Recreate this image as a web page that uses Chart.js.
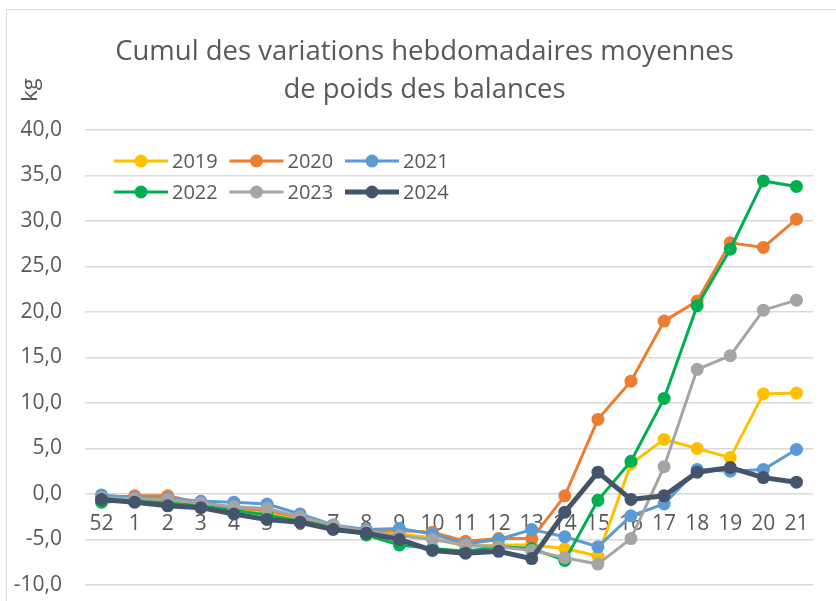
<!DOCTYPE html>
<html>
<head>
<meta charset="utf-8">
<script src="https://cdn.jsdelivr.net/npm/chart.js@4/dist/chart.umd.min.js"></script>
<style>
  html, body { margin: 0; padding: 0; background: #fff; }
  #wrap { width: 836px; height: 601px; }
</style>
</head>
<body>
<div id="wrap"><canvas id="balances" width="836" height="601"></canvas></div>
<script>
/* Semaines (52 = dernière semaine de l'année précédente) */
const weeks = ['52', '1', '2', '3', '4', '5', '6', '7', '8', '9', '10',
               '11', '12', '13', '14', '15', '16', '17', '18', '19', '20', '21'];

const years = ['2019', '2020', '2021', '2022', '2023', '2024'];
const colors = ['#FFC000', '#ED7D31', '#5B9BD5', '#00B050', '#A5A5A5', '#44546A'];
const widths = [3, 3, 3, 3, 3, 5];

/* Cumul en kg */
const v2019 = [-0.5, -0.6, -0.8, -1.2, -1.6, -2.0, -2.8, -3.5, -4.2, -4.4, -4.8,
               -5.8, -5.6, -5.6, -6.0, -6.8, 3.3, 6.0, 5.0, 4.0, 11.0, 11.1];
const v2020 = [-0.5, -0.2, -0.2, -1.0, -1.5, -1.8, -2.6, -3.5, -4.0, -4.0, -4.2,
               -5.2, -4.9, -4.9, -0.2, 8.2, 12.4, 19.0, 21.2, 27.6, 27.1, 30.2];
const v2021 = [-0.1, -0.4, -0.5, -0.8, -0.9, -1.1, -2.2, -3.4, -3.9, -3.8, -4.4,
               -5.5, -5.0, -3.9, -4.7, -5.8, -2.4, -1.1, 2.7, 2.5, 2.7, 4.9];
const v2022 = [-0.9, -0.7, -1.0, -1.3, -1.8, -2.3, -3.0, -3.6, -4.5, -5.6, -6.0,
               -6.3, -5.8, -6.0, -7.3, -0.7, 3.6, 10.5, 20.7, 26.9, 34.4, 33.8];
const v2023 = [-0.4, -0.5, -0.6, -1.0, -1.4, -1.6, -2.5, -3.4, -4.1, -4.6, -5.0,
               -5.6, -5.8, -6.2, -7.0, -7.7, -4.9, 3.0, 13.7, 15.2, 20.2, 21.3];
const v2024 = [-0.6, -0.9, -1.3, -1.5, -2.2, -2.8, -3.1, -3.9, -4.3, -5.0, -6.2,
               -6.5, -6.3, -7.1, -2.0, 2.4, -0.6, -0.2, 2.4, 2.9, 1.8, 1.3];
const series = [v2019, v2020, v2021, v2022, v2023, v2024];

const titleLines = ['Cumul des variations hebdomadaires moyennes', 'de poids des balances'];
const unitLabel = 'kg';

const TXT = '#595959';
const FONT = "'Open Sans', 'DejaVu Sans', sans-serif";

const datasets = years.map((y, i) => ({
    label: y,
    data: series[i],
    borderColor: colors[i],
    backgroundColor: colors[i],
    borderWidth: widths[i],
    pointRadius: 6.5,
    pointBorderWidth: 0,
    pointBackgroundColor: colors[i],
    tension: 0,
    order: years.length - 1 - i   // les dernières années par-dessus
}));

/* fond + cadre de la zone de graphique */
const framePlugin = {
    id: 'frame',
    beforeDraw(chart) {
        const ctx = chart.ctx;
        ctx.save();
        ctx.fillStyle = '#fff';
        ctx.fillRect(0, 0, chart.width, chart.height);
        ctx.strokeStyle = '#d9d9d9';
        ctx.lineWidth = 1;
        ctx.strokeRect(6.5, 9.5, chart.width + 10, chart.height + 10);
        ctx.restore();
    }
};

/* titre sur deux lignes + "kg" vertical en haut de l'axe */
const textPlugin = {
    id: 'texts',
    afterDraw(chart) {
        const ctx = chart.ctx;
        ctx.save();
        ctx.fillStyle = TXT;
        ctx.textAlign = 'center';
        ctx.textBaseline = 'middle';
        ctx.font = "27.5px " + FONT;
        titleLines.forEach((t, i) => ctx.fillText(t, 424.5, 52 + i * 38));
        ctx.translate(31, 90);
        ctx.rotate(-Math.PI / 2);
        ctx.font = "22px " + FONT;
        ctx.fillText(unitLabel, 0, 0);
        ctx.restore();
    }
};

/* légende sur deux lignes dans la zone de traçage */
const legendPlugin = {
    id: 'innerLegend',
    afterDraw(chart) {
        const ctx = chart.ctx;
        ctx.save();
        ctx.font = "20px " + FONT;
        ctx.textBaseline = 'middle';
        ctx.textAlign = 'left';
        chart.data.datasets.forEach((ds, i) => {
            const col = i % 3, row = Math.floor(i / 3);
            const x = 114 + col * 115.5;
            const y = 161 + row * 31;
            ctx.strokeStyle = ds.borderColor;
            ctx.lineWidth = ds.borderWidth;
            ctx.beginPath();
            ctx.moveTo(x, y);
            ctx.lineTo(x + 54, y);
            ctx.stroke();
            ctx.fillStyle = ds.borderColor;
            ctx.beginPath();
            ctx.arc(x + 27, y, 6.5, 0, Math.PI * 2);
            ctx.fill();
            ctx.fillStyle = TXT;
            ctx.fillText(ds.label, x + 58, y + 1);
        });
        ctx.restore();
    }
};

const config = {
    type: 'line',
    data: { labels: weeks, datasets },
    options: {
        responsive: false,
        animation: false,
        events: [],
        layout: { padding: { top: 130, left: 0, right: 23, bottom: 16 } },
        plugins: {
            legend: { display: false },
            tooltip: { enabled: false },
            title: { display: false }
        },
        scales: {
            x: {
                type: 'category',
                position: { y: 0 },
                offset: true,
                grid: { display: false, drawTicks: false },
                border: { display: false },
                ticks: {
                    color: TXT,
                    font: { family: FONT, size: 21 },
                    padding: 17,
                    maxRotation: 0,
                    autoSkip: false
                },
                afterFit(scale) { scale.height = 0; }
            },
            y: {
                min: -10,
                max: 40,
                grid: { color: '#d9d9d9', lineWidth: 1.5, drawTicks: false },
                border: { display: false },
                ticks: {
                    stepSize: 5,
                    color: TXT,
                    font: { family: FONT, size: 21 },
                    padding: 23,
                    callback: (v) => v.toFixed(1).replace('.', ',')
                },
                afterFit(scale) {
                    scale.width = 85;
                    scale.paddingTop = 0;
                    scale.paddingBottom = 0;
                }
            }
        }
    },
    plugins: [framePlugin, textPlugin, legendPlugin]
};

const balanceChart = new Chart(document.getElementById('balances'), config);
</script>
</body>
</html>
